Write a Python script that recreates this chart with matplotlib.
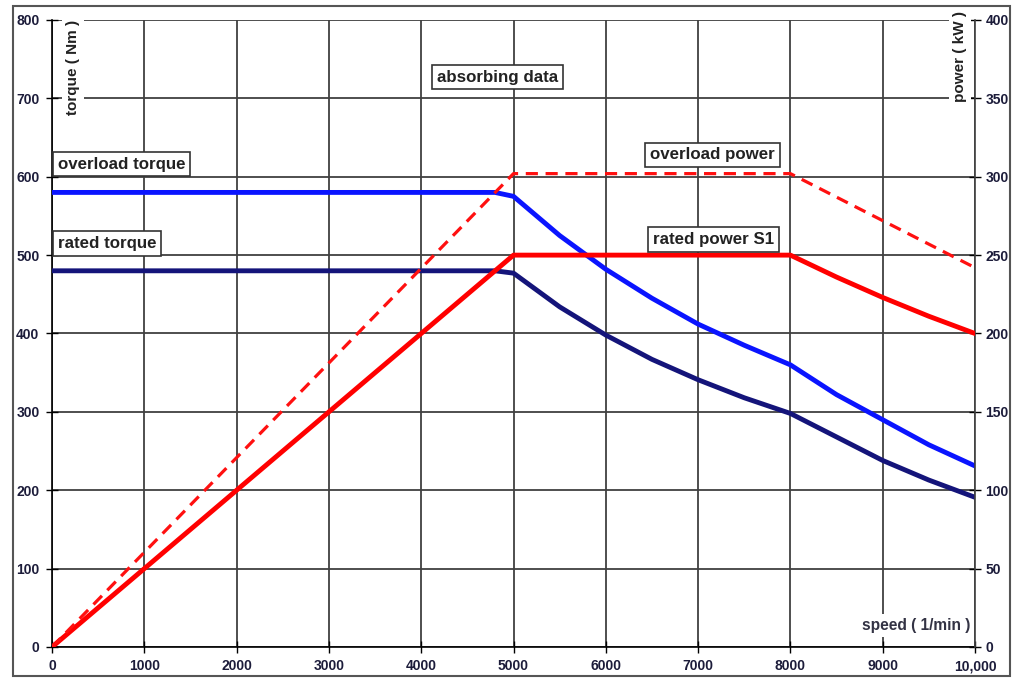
import matplotlib
matplotlib.use('Agg')
import matplotlib.pyplot as plt
from matplotlib.patches import Rectangle

plt.rcParams['font.family'] = ['Liberation Sans', 'DejaVu Sans']

# speed points (1/min)
speed = [0, 4800, 5000, 5500, 6000, 6500, 7000, 7500, 8000, 8500, 9000, 9500, 10000]

# torque curves (Nm)
overload_torque = [580, 580, 575, 525, 482, 445, 412, 385, 360, 322, 290, 258, 231]
rated_torque    = [480, 480, 477, 434, 398, 367, 341, 318, 298, 268, 238, 213, 191]

# power curves (kW)
power_speed    = [0, 5000, 8000, 8500, 9000, 9500, 10000]
rated_power    = [0, 250, 250, 236, 223, 211, 200]
overload_power = [0, 302, 302, 287, 272, 257, 242]

grid_col = '#404040'
tick_col = '#1c1c3a'
txt_col = '#222222'

fig = plt.figure(figsize=(10.14, 6.79), dpi=100)
ax = fig.add_axes([52/1014, 32/679, 923/1014, 627/679])
ax2 = ax.twinx()

# torque side
ax.set_xlim(0, 10000)
ax.set_ylim(0, 800)
ax.set_xticks(range(0, 10001, 1000))
ax.set_xticklabels([str(v) for v in range(0, 10000, 1000)] + ['10,000'])
ax.set_yticks(range(0, 801, 100))
ax.grid(True, color=grid_col, lw=1.3)
ax.tick_params(direction='inout', length=8, width=1, colors='black',
               labelcolor=tick_col, labelsize=10, pad=5)
for lab in ax.get_xticklabels() + ax.get_yticklabels():
    lab.set_fontweight('bold')
for s in ['top', 'right']:
    ax.spines[s].set_visible(False)
ax.spines['left'].set_linewidth(1.2)
ax.spines['bottom'].set_linewidth(1.2)

ax.plot(speed, overload_torque, color='#0a14ff', lw=3.5, zorder=4)
ax.plot(speed, rated_torque, color='#14147a', lw=3.5, zorder=4)

# power side
ax2.set_ylim(0, 400)
ax2.set_yticks(range(0, 401, 50))
ax2.tick_params(direction='inout', length=8, width=1, colors='black',
                labelcolor=tick_col, labelsize=10, pad=3.5)
for lab in ax2.get_yticklabels():
    lab.set_fontweight('bold')
for s in ['top', 'left', 'bottom']:
    ax2.spines[s].set_visible(False)
ax2.spines['right'].set_linewidth(1.2)
ax2.spines['right'].set_color(grid_col)

ax2.plot(power_speed, rated_power, color='#ff0000', lw=3.5, zorder=3)
ax2.plot(power_speed, overload_power, color='#ff1010', lw=2.3,
         dashes=(3.8, 2.4), zorder=3)

# boxed labels (torque coordinates)
box = dict(boxstyle='square,pad=0.28', fc='white', ec='#333333', lw=1.2)
labels = [
    (60, 616, 'overload torque'),
    (60, 515, 'rated torque'),
    (4171, 727, 'absorbing data'),
    (6479, 628, 'overload power'),
    (6511, 520, 'rated power S1'),
]
for x, y, t in labels:
    ax2.text(x, y, t, transform=ax.transData, ha='left', va='center',
             fontsize=12.2, fontweight='bold', color=txt_col, bbox=box, zorder=6)

plain = dict(boxstyle='square,pad=0.25', fc='white', ec='none')
ax2.text(9946, 27, 'speed ( 1/min )', transform=ax.transData, ha='right',
         va='center', fontsize=11.2, fontweight='bold', color='#333344',
         bbox=plain, zorder=6)
ax2.text(228, 739, 'torque ( Nm )', transform=ax.transData, ha='center',
         va='center', rotation=90, fontsize=11, fontweight='bold',
         color=txt_col, bbox=plain, zorder=6)
ax2.text(9837, 754, 'power ( kW )', transform=ax.transData, ha='center',
         va='center', rotation=90, fontsize=11, fontweight='bold',
         color=txt_col, bbox=plain, zorder=6, clip_on=False)

# outer frame
fig.patches.append(Rectangle((13/1014, 3/679), 997/1014, 670/679,
                             transform=fig.transFigure, fill=False,
                             ec='#555555', lw=1.5))

fig.savefig('out.png', dpi=100)
